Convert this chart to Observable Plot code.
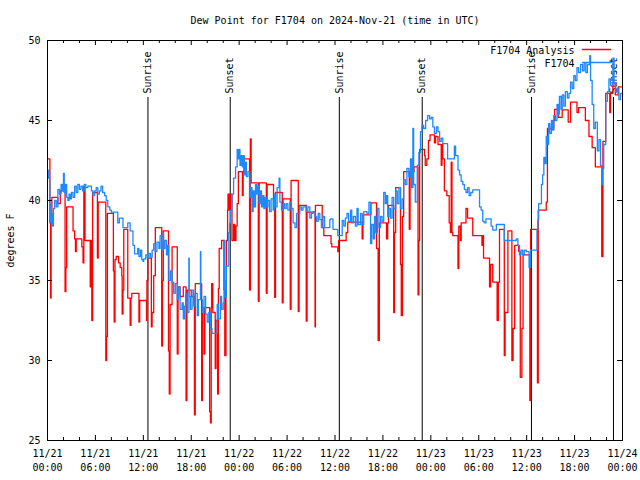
<!DOCTYPE html>
<html>
<head>
<meta charset="utf-8">
<script src="https://cdn.jsdelivr.net/npm/d3@7"></script>
<script src="https://cdn.jsdelivr.net/npm/@observablehq/plot@0.6"></script>
<style>
  html, body { margin: 0; padding: 0; background: #fff; }
  svg { display: block; }
</style>
</head>
<body>
<div id="chart"></div>
<script>
// ---- data (hours since 2024-11-21 00:00 UTC, degrees F) ----
const titleText = "Dew Point for F1704 on 2024-Nov-21 (time in UTC)";
const yLabelText = "degrees F";
const seriesNames = ["F1704 Analysis", "F1704"];
const seriesColors = ["#ff0000", "#1e88ff"];

// F1704 Analysis (red)
const analysis = [[0,42.6],[0.3,38.6],[0.38,33.9],[0.45,38.6],[0.55,40.2],[1.3,39.8],[1.6,40.6],[2.2,34.3],[2.3,35.8],[2.4,39.6],[3.2,38.1],[3.4,37.6],[3.5,36.8],[3.6,37.6],[4.3,37.1],[4.45,36.1],[4.55,40.9],[4.7,37.5],[5.35,34.6],[5.45,37.5],[5.55,32.5],[5.65,40.5],[6.25,36.4],[6.35,39.9],[7.3,30.0],[7.4,31.5],[7.5,39.2],[8.25,35.6],[8.35,32.4],[8.45,36.3],[8.6,36.5],[8.9,36.1],[9.1,35.8],[9.3,35.3],[9.35,32.9],[9.45,34.4],[9.55,38.2],[10.05,33.9],[10.35,32.2],[10.45,33.9],[10.55,34.2],[11.45,32.4],[11.55,33.75],[12.4,32.5],[12.45,35.0],[12.56,36.4],[13.0,32.1],[13.1,33.0],[13.3,35.3],[13.5,38.3],[14.3,30.9],[14.4,35.0],[14.5,38.1],[15.15,30.6],[15.25,27.9],[15.35,33.5],[15.6,37.1],[16.25,30.4],[16.35,34.6],[16.6,34.0],[17.0,34.6],[17.35,27.5],[17.45,33.8],[17.5,34.4],[18.0,34.0],[18.4,26.6],[18.5,34.8],[19.3,27.5],[19.4,33.3],[19.6,30.4],[19.7,33.3],[20.3,26.8],[20.4,26.1],[20.5,33.3],[20.55,34.8],[20.7,33.0],[21.0,29.5],[21.1,32.5],[21.3,27.9],[21.4,34.5],[21.5,37.0],[21.8,37.5],[22.1,34.4],[22.2,30.3],[22.35,35.0],[22.4,37.5],[22.55,39.4],[22.6,40.4],[22.65,39.4],[22.7,40.4],[22.75,39.4],[22.8,40.4],[22.85,39.5],[22.9,40.4],[23.1,37.5],[23.3,38.5],[23.45,37.5],[23.6,38.4],[23.75,39.8],[23.9,41.8],[24.4,40.3],[24.5,41.8],[24.6,42.6],[25.3,34.4],[25.4,43.85],[25.5,41.1],[26.4,33.7],[26.5,41.1],[27.4,34.2],[27.5,41.0],[28.3,40.0],[28.45,33.95],[28.55,40.5],[29.4,33.6],[29.5,40.1],[30.4,33.2],[30.5,41.25],[31.4,33.06],[31.5,39.7],[32.4,32.46],[32.5,39.27],[33.5,32.1],[33.55,39.7],[34.4,38.3],[34.6,37.8],[35.5,37.3],[35.6,37.1],[36.35,36.8],[36.45,37.5],[37.4,38.0],[37.6,38.65],[39.4,37.6],[39.5,39.1],[40.5,39.85],[41.2,37.0],[41.4,31.25],[41.55,38.6],[42.45,37.6],[42.6,38.6],[42.7,39.7],[43.35,33.0],[43.45,38.0],[43.6,40.8],[44.2,36.0],[44.3,32.8],[44.45,39.0],[44.6,41.8],[45.3,38.2],[45.4,41.8],[45.9,42.1],[46.4,34.1],[46.5,37.5],[46.6,43.2],[47.2,42.8],[47.3,42.2],[47.5,42.6],[47.7,43.75],[47.9,44.1],[48.45,43.6],[48.6,44.0],[48.9,43.5],[49.3,42.2],[49.4,43.5],[49.5,42.6],[49.7,40.6],[50.0,40.3],[50.3,38.6],[50.45,38.0],[50.55,42.4],[50.65,38.0],[50.75,37.8],[51.4,35.75],[51.5,38.4],[51.7,37.5],[51.8,38.6],[52.4,39.5],[52.6,38.9],[53.25,37.8],[54.4,37.2],[54.5,37.8],[54.6,36.4],[55.35,34.6],[55.5,36.0],[55.75,34.9],[56.3,32.5],[56.45,34.9],[56.6,38.2],[57.2,30.3],[57.3,33.0],[57.65,38.1],[58.15,30.0],[58.3,32.0],[58.5,37.2],[59.0,36.8],[59.2,28.95],[59.4,32.0],[59.55,36.6],[60.4,27.5],[60.5,38.2],[61.35,28.6],[61.45,39.4],[62.45,39.9],[62.6,44.5],[63.4,45.0],[63.5,45.7],[63.95,45.2],[64.45,45.67],[65.2,44.9],[65.5,46.15],[66.3,45.5],[66.5,45.8],[67.35,45.0],[67.8,44.0],[68.2,43.3],[68.6,42.1],[69.4,36.5],[69.55,43.7],[69.9,46.7],[70.4,45.5],[70.5,46.7],[70.8,47.3],[71.1,46.6],[71.45,47.1],[72,47.1]];

// F1704 (blue)
const observed = [[0,41.4],[0.15,41.9],[0.25,41.2],[0.3,39.8],[0.4,38.6],[0.5,39.2],[0.6,38.4],[0.75,39.5],[0.9,40.0],[1.1,39.6],[1.3,40.7],[1.5,40.4],[1.7,41.0],[1.85,40.6],[2.0,41.7],[2.1,40.5],[2.25,41.0],[2.4,40.2],[2.55,40.0],[2.7,40.4],[2.85,40.1],[3.0,40.5],[3.2,40.2],[3.4,40.9],[3.6,40.5],[3.8,41.0],[4.0,40.7],[4.2,40.9],[4.4,40.6],[4.6,41.0],[4.8,40.8],[5.05,40.9],[5.3,40.9],[5.5,40.6],[5.7,40.3],[5.9,40.6],[6.1,40.8],[6.3,40.4],[6.5,40.6],[6.7,40.9],[6.9,40.5],[7.15,40.3],[7.35,40.0],[7.55,39.6],[7.8,39.4],[8.0,39.27],[8.8,38.6],[9.0,38.9],[9.45,38.3],[10.05,38.6],[10.35,38.1],[10.7,37.2],[10.9,36.67],[11.3,37.0],[11.45,36.5],[11.65,36.9],[11.8,36.3],[11.95,36.2],[12.05,36.35],[12.3,36.6],[12.5,36.4],[12.7,36.7],[12.9,36.45],[13.1,36.9],[13.3,37.3],[13.5,36.8],[13.7,37.4],[13.95,37.0],[14.1,37.8],[14.3,36.9],[14.5,38.0],[14.55,37.0],[14.7,37.5],[14.9,36.6],[15.05,37.2],[15.2,35.0],[15.4,35.6],[15.6,34.9],[15.8,34.2],[16.0,34.8],[16.25,33.8],[16.4,34.6],[16.6,33.2],[16.85,33.6],[17.0,32.6],[17.15,33.4],[17.3,34.2],[17.5,33.0],[17.7,36.4],[17.75,34.0],[17.9,33.2],[18.1,34.4],[18.3,33.4],[18.5,34.2],[18.75,32.8],[18.9,33.8],[19.15,36.8],[19.2,33.8],[19.4,33.0],[19.6,34.0],[19.8,32.9],[20.0,32.4],[20.2,33.0],[20.4,32.0],[20.6,31.7],[21.25,33.5],[21.4,32.6],[21.65,34.0],[21.8,33.2],[22.0,33.6],[22.1,37.5],[22.2,34.0],[22.4,35.9],[22.7,38.0],[22.8,38.6],[22.9,39.4],[23.1,40.4],[23.3,41.4],[23.55,42.1],[23.75,43.2],[23.85,42.6],[24.0,43.2],[24.1,42.2],[24.25,42.8],[24.4,42.1],[24.5,42.8],[24.65,41.6],[24.8,42.4],[24.9,41.5],[25.1,41.8],[25.35,40.2],[25.5,40.8],[25.6,39.3],[25.75,40.6],[25.9,39.6],[26.05,41.0],[26.2,40.4],[26.35,40.9],[26.5,39.8],[26.65,40.6],[26.8,39.6],[26.95,40.3],[27.1,39.5],[27.25,40.2],[27.4,39.6],[27.6,40.0],[27.8,39.3],[28.0,40.1],[28.25,39.4],[28.4,40.4],[28.55,39.6],[28.75,40.8],[29.0,41.4],[29.1,39.9],[29.3,39.4],[29.5,39.8],[29.7,39.5],[29.9,39.8],[30.1,39.4],[30.35,39.9],[30.55,39.5],[30.75,38.6],[31.0,38.3],[31.2,39.2],[31.6,39.6],[31.8,39.4],[32.0,39.6],[32.4,39.3],[32.6,39.6],[32.85,38.9],[33.05,39.2],[33.25,39.3],[33.5,39.0],[33.7,38.7],[33.9,39.2],[34.1,38.8],[34.3,38.3],[34.5,39.0],[34.7,38.3],[35.35,38.8],[35.45,38.85],[35.75,38.2],[36.35,37.8],[36.9,38.75],[37.1,38.4],[37.3,38.9],[37.5,39.2],[37.7,38.7],[37.95,39.4],[38.1,38.6],[38.3,39.0],[38.55,38.4],[38.75,39.5],[38.9,38.5],[39.2,39.2],[39.4,38.5],[39.6,39.3],[40.0,39.2],[40.25,39.9],[40.45,37.3],[40.6,38.5],[40.8,37.6],[40.95,39.0],[41.1,38.0],[41.3,39.5],[41.5,38.3],[41.7,39.0],[41.9,38.7],[42.1,40.5],[42.3,39.8],[42.45,40.3],[42.6,39.0],[42.75,39.5],[42.95,38.9],[43.15,40.2],[43.35,39.5],[43.6,40.6],[43.8,39.8],[44.0,40.8],[44.2,39.5],[44.4,40.1],[44.6,41.3],[44.8,41.0],[45.0,42.0],[45.25,41.5],[45.45,42.6],[45.6,40.8],[45.75,44.5],[45.85,41.0],[46.05,39.9],[46.3,42.2],[46.5,43.0],[46.7,44.3],[46.9,44.7],[47.1,44.5],[47.35,45.0],[47.6,45.3],[47.85,45.1],[48.05,45.2],[48.25,44.6],[48.45,44.2],[48.7,44.6],[48.9,44.3],[49.1,43.7],[49.3,43.9],[49.5,43.55],[50.1,42.6],[50.95,43.4],[51.1,42.8],[51.4,41.9],[51.6,41.6],[51.8,41.2],[52.0,41.0],[52.2,40.7],[52.4,40.5],[52.6,40.8],[52.8,40.3],[53.0,40.5],[53.25,40.67],[54.1,39.6],[54.3,39.4],[54.5,38.7],[54.7,38.6],[54.9,38.85],[55.55,38.4],[55.75,38.15],[56.2,38.5],[57.2,37.5],[58.7,37.6],[58.9,37.2],[59.1,36.6],[59.3,36.9],[59.5,36.6],[59.7,36.9],[59.95,36.8],[60.3,35.8],[60.5,36.9],[61.3,38.2],[61.4,38.8],[61.5,39.8],[61.85,41.0],[62.0,41.6],[62.15,42.7],[62.3,42.3],[62.45,44.0],[62.6,43.5],[62.75,44.8],[62.9,44.2],[63.1,45.0],[63.25,44.4],[63.4,45.3],[63.6,45.0],[63.8,46.0],[63.95,45.4],[64.1,46.5],[64.3,45.7],[64.45,46.6],[64.65,45.9],[64.85,46.8],[65.1,46.4],[65.3,46.7],[65.5,47.4],[65.7,47.0],[65.9,47.8],[66.1,47.5],[66.3,48.3],[66.5,48.0],[66.75,48.5],[67.0,48.1],[67.2,48.6],[67.4,48.0],[67.6,48.5],[67.9,49.06],[68.0,47.5],[68.2,46.0],[68.4,44.5],[68.6,44.9],[68.85,43.1],[69.05,43.8],[69.25,42.2],[69.4,41.0],[69.5,42.0],[69.65,43.5],[69.9,46.2],[70.1,46.8],[70.3,47.6],[70.5,47.2],[70.8,48.9],[70.95,47.3],[71.15,46.8],[71.35,47.0],[71.55,46.3],[71.75,46.7],[72,46.5]];

// sunrise / sunset markers
const eventHours = [12.58, 22.88, 36.54, 46.92, 60.6, 70.87];
const eventLabels = ["Sunrise", "Sunset", "Sunrise", "Sunset", "Sunrise", "Sunset"];

// axes
const xMajorHours = [0, 6, 12, 18, 24, 30, 36, 42, 48, 54, 60, 66, 72];
const xMinorHours = [2, 4, 8, 10, 14, 16, 20, 22, 26, 28, 32, 34, 38, 40, 44, 46, 50, 52, 56, 58, 62, 64, 68, 70];
const xTickLabels = ["11/21\n00:00","11/21\n06:00","11/21\n12:00","11/21\n18:00","11/22\n00:00","11/22\n06:00","11/22\n12:00","11/22\n18:00","11/23\n00:00","11/23\n06:00","11/23\n12:00","11/23\n18:00","11/24\n00:00"];
const yTicks = [25, 30, 35, 40, 45, 50];

// ---- build ----
const t0 = Date.UTC(2024, 10, 21);
const toDate = h => new Date(t0 + h * 3600e3);
const redData = analysis.map(([h, v]) => ({t: toDate(h), v}));
const blueData = observed.map(([h, v]) => ({t: toDate(h), v}));
const events = eventHours.map((h, i) => ({t: toDate(h), label: eventLabels[i]}));
const xMajor = xMajorHours.map(toDate);
const xMinor = xMinorHours.map(toDate);
const labelFor = new Map(xMajor.map((d, i) => [+d, xTickLabels[i]]));

const W = 640, H = 480, ML = 47, MR = 18, MT = 40, MB = 40;
const FW = W - ML - MR, FH = H - MT - MB;

const lineShape = {draw(ctx, l) { ctx.moveTo(0, 0); ctx.lineTo(0, -l); }};

const chart = Plot.plot({
  width: W, height: H,
  marginLeft: ML, marginRight: MR, marginTop: MT, marginBottom: MB,
  style: {fontFamily: "'DejaVu Sans Mono', monospace", fontSize: "10px", background: "white", overflow: "visible"},
  x: {type: "utc", domain: [toDate(0), toDate(72)]},
  y: {domain: [25, 50]},
  marks: [
    // sunrise/sunset rules & labels
    Plot.ruleX(events, {x: "t", insetTop: 57, stroke: "black"}),
    Plot.text(events, {x: "t", text: "label", frameAnchor: "top", dy: 53, rotate: -90, textAnchor: "start", lineAnchor: "middle", fill: "black"}),
    // series
    Plot.line(redData, {x: "t", y: "v", curve: "step-after", stroke: "red", strokeWidth: 1.3}),
    Plot.line(blueData, {x: "t", y: "v", curve: "step-after", stroke: "#1e88ff", strokeWidth: 1.3}),
    // ticks inside the frame
    Plot.tickX(xMajor, {x: d => d, insetTop: FH - 5, stroke: "black"}),
    Plot.tickX(xMajor, {x: d => d, insetBottom: FH - 5, stroke: "black"}),
    Plot.tickX(xMinor, {x: d => d, insetTop: FH - 3, stroke: "black"}),
    Plot.tickX(xMinor, {x: d => d, insetBottom: FH - 3, stroke: "black"}),
    Plot.tickY(yTicks, {y: d => d, insetRight: FW - 5, stroke: "black"}),
    Plot.tickY(yTicks, {y: d => d, insetLeft: FW - 5, stroke: "black"}),
    // axes labels
    Plot.axisX({ticks: xMajor, tickSize: 0, tickPadding: 7, tickFormat: d => labelFor.get(+d), lineHeight: 1.4, label: null, fill: "black"}),
    Plot.axisY({ticks: yTicks, tickSize: 0, tickPadding: 7, label: null, fill: "black"}),
    Plot.frame({stroke: "black"}),
    // title and y label
    Plot.text([titleText], {frameAnchor: "top", dy: -20, lineAnchor: "middle", textAnchor: "middle", fill: "black"}),
    Plot.text([yLabelText], {frameAnchor: "left", dx: -37, rotate: -90, textAnchor: "middle", lineAnchor: "middle", fill: "black"}),
    // legend
    Plot.text([seriesNames[0]], {frameAnchor: "top-right", dx: -48, dy: 10, textAnchor: "end", lineAnchor: "middle", fill: "black"}),
    Plot.text([seriesNames[1]], {frameAnchor: "top-right", dx: -48, dy: 23, textAnchor: "end", lineAnchor: "middle", fill: "black"}),
    Plot.vector([0], {frameAnchor: "top-right", dx: -40, dy: 9, rotate: 90, length: 28, anchor: "start", shape: lineShape, stroke: "red", strokeWidth: 1.3}),
    Plot.vector([0], {frameAnchor: "top-right", dx: -40, dy: 22, rotate: 90, length: 28, anchor: "start", shape: lineShape, stroke: "#1e88ff", strokeWidth: 1.3})
  ]
});
document.getElementById("chart").appendChild(chart);
</script>
</body>
</html>
